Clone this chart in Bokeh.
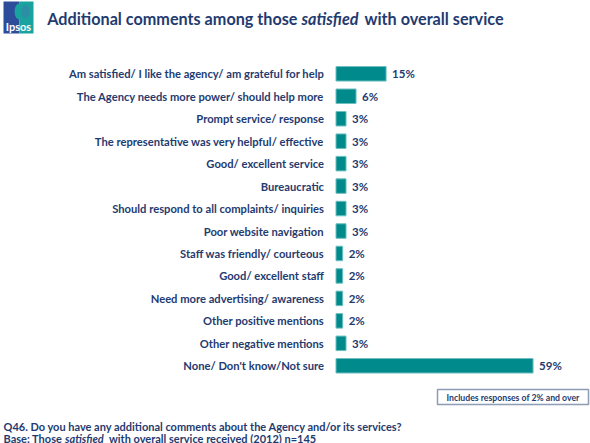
from bokeh.plotting import figure
from bokeh.models import ColumnDataSource, Range1d, Label
from bokeh.core.properties import value
from bokeh.embed import file_html
from bokeh.resources import INLINE

# ---- data ----
categories = [
    "Am satisfied/ I like the agency/ am grateful for help",
    "The Agency needs more power/ should help more",
    "Prompt service/ response",
    "The representative was very helpful/ effective",
    "Good/ excellent service",
    "Bureaucratic",
    "Should respond to all complaints/ inquiries",
    "Poor website navigation",
    "Staff was friendly/ courteous",
    "Good/ excellent staff",
    "Need more advertising/ awareness",
    "Other positive mentions",
    "Other negative mentions",
    "None/ Don't know/Not sure",
]
values = [15, 6, 3, 3, 3, 3, 3, 3, 2, 2, 2, 2, 3, 59]
value_labels = [f"{v}%" for v in values]

title_parts = ["Additional comments among those", "satisfied", "with overall service"]
footer_line1 = "Q46. Do you have any additional comments about the Agency and/or its services?"
footer_line2 = ["Base: Those", "satisfied", "with overall  service received (2012) n=145"]
note_text = "Includes responses of 2% and over"

# ---- layout constants (pixels) ----
W, H = 590, 443
X0 = 335.5      # pixel x of 0%
PX_PER_PCT = 3.34
Y0 = 73.3       # pixel y of first row centre
ROW = 22.46     # row spacing in px

def px_x(px):
    return (px - X0) / PX_PER_PCT

def px_y(py):
    return (py - Y0) / ROW

FONT = "Lato"
NAVY = "#1F3B6F"
TEAL = "#008A8C"

p = figure(width=W, height=H, output_backend="svg", toolbar_location=None,
           x_range=Range1d(px_x(0), px_x(W)),
           y_range=Range1d(px_y(H), px_y(0)),
           min_border=0, min_border_left=0, min_border_right=0,
           min_border_top=0, min_border_bottom=0)
p.axis.visible = False
p.grid.visible = False
p.outline_line_color = None
p.background_fill_color = "white"
p.border_fill_color = "white"

rows = list(range(len(categories)))
src = ColumnDataSource(dict(y=rows, v=values, cat=categories, lab=value_labels,
                            zero=[0] * len(values)))

bar_h = 14.5 / ROW
p.hbar(y="y", left="zero", right="v", height=bar_h, source=src,
       fill_color=TEAL, line_color="#6FBFBF", line_width=1)

p.text(x="zero", y="y", text="cat", source=src, x_offset=-12,
       text_align="right", text_baseline="middle",
       text_font=value(FONT), text_font_style="bold", text_font_size="11.2px",
       text_color=NAVY)
p.text(x="v", y="y", text="lab", source=src, x_offset=6,
       text_align="left", text_baseline="middle",
       text_font=value(FONT), text_font_style="bold", text_font_size="11.5px",
       text_color=NAVY)

# ---- logo ----
p.quad(left=[px_x(3)], right=[px_x(19)], top=[px_y(1)], bottom=[px_y(33)],
       fill_color="#2D4D9B", line_color=None)
p.quad(left=[px_x(19)], right=[px_x(33)], top=[px_y(1)], bottom=[px_y(33)],
       fill_color="#19A39E", line_color=None)
p.ellipse(x=[px_x(19)], y=[px_y(11)], width=10 / PX_PER_PCT, height=16 / ROW,
          fill_color="#19A39E", line_color=None)
p.ellipse(x=[px_x(25)], y=[px_y(11)], width=8 / PX_PER_PCT, height=14 / ROW,
          fill_color="#2D8FA6", line_color=None)
p.add_layout(Label(x=px_x(18), y=px_y(26), text="Ipsos", text_align="center",
                   text_baseline="middle", text_font=FONT, text_font_style="bold",
                   text_font_size="11px", text_color="white"))

# ---- title ----
title_specs = [(297, "right", "bold"), (301, "left", "bold italic"), (364, "left", "bold")]
for t, (tx, al, st) in zip(title_parts, title_specs):
    p.add_layout(Label(x=px_x(tx), y=px_y(18), text=t, text_align=al,
                       text_baseline="middle", text_font=FONT, text_font_style=st,
                       text_font_size="16.2px", text_color=NAVY))

# ---- note box ----
p.quad(left=[px_x(437)], right=[px_x(588)], top=[px_y(389)], bottom=[px_y(404)],
       fill_color="white", line_color="#8C9DB5", line_width=1.5)
p.add_layout(Label(x=px_x(512.5), y=px_y(396.5), text=note_text, text_align="center",
                   text_baseline="middle", text_font=FONT, text_font_style="bold",
                   text_font_size="8.7px", text_color=NAVY))

# ---- footer ----
p.add_layout(Label(x=px_x(3), y=px_y(426), text=footer_line1, text_align="left",
                   text_baseline="middle", text_font=FONT, text_font_style="bold",
                   text_font_size="11px", text_color=NAVY))
foot_specs = [(3, "bold"), (64.5, "bold italic"), (108.5, "bold")]
for t, (fx, st) in zip(footer_line2, foot_specs):
    p.add_layout(Label(x=px_x(fx), y=px_y(437.5), text=t, text_align="left",
                       text_baseline="middle", text_font=FONT, text_font_style=st,
                       text_font_size="11px", text_color=NAVY))

html = file_html(p, INLINE)
html = html.replace("<head>", "<head><style>html,body{margin:0;padding:0;overflow:hidden;}</style>", 1)
open("out.html", "w").write(html)
